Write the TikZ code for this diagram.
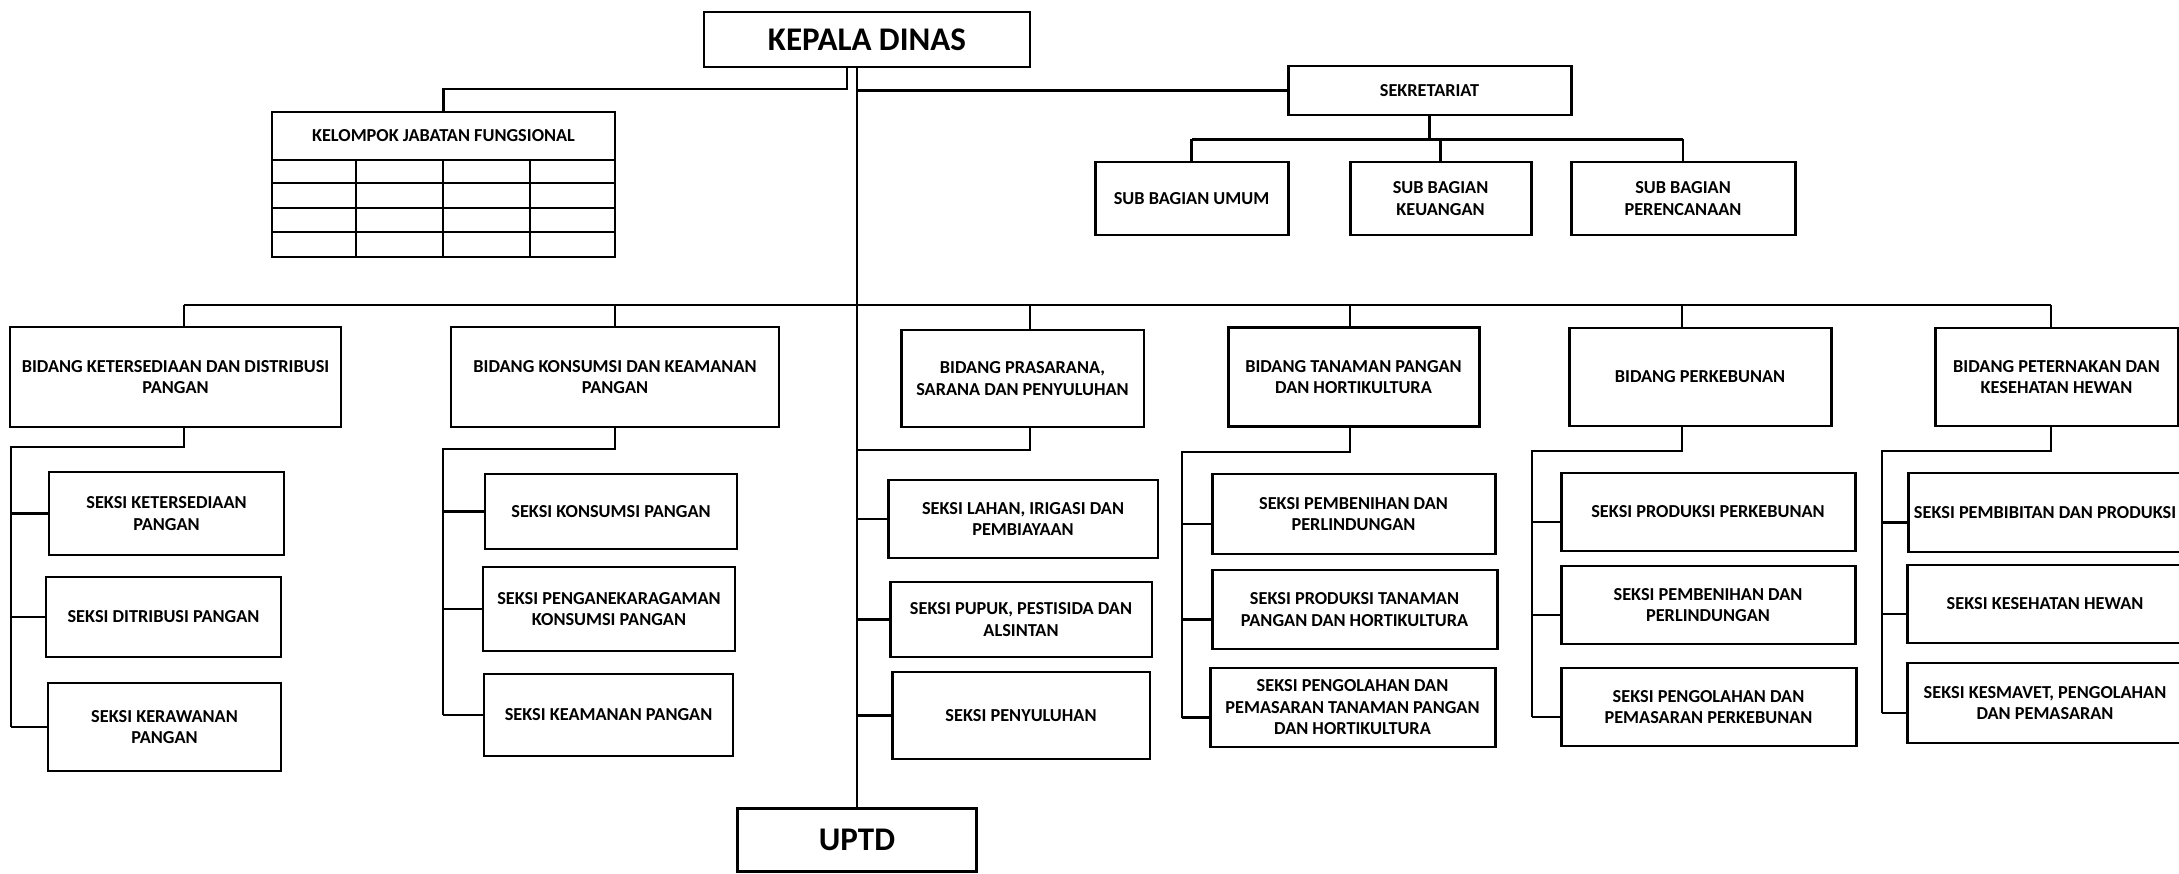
\documentclass[tikz,border=0pt]{standalone}
\usepackage{fontspec}
\setmainfont{Carlito}
\tikzset{
  orgbox/.style={draw, line width=0.85pt, align=center, inner sep=1pt,
    font=\fontsize{5.2}{6.1}\selectfont\bfseries},
  bigbox/.style={orgbox, line width=0.8pt, font=\fontsize{9.4}{11}\selectfont\bfseries},
  conn/.style={line width=0.6pt},
}
\begin{document}
\begin{tikzpicture}[x=0.1mm, y=-0.1mm]
\useasboundingbox (0,0) rectangle (2179,874);
\clip (0,0) rectangle (2179,874);

% pimpinan dan sekretariat
\node[bigbox, minimum width=32.6mm, minimum height=5.5mm] (kd) at (867,39.5) {KEPALA DINAS};
\node[bigbox, minimum width=23.9mm, minimum height=6.3mm] (uptd) at (857,840) {UPTD};
\node[orgbox, line width=0.7pt, minimum width=34.3mm, minimum height=4.8mm] (kjf) at (443.5,136) {KELOMPOK JABATAN FUNGSIONAL};
\node[orgbox, minimum width=28.3mm, minimum height=4.9mm] (sek) at (1429.5,90.5) {SEKRETARIAT};
\node[orgbox, minimum width=19.3mm, minimum height=7.3mm] (sbu) at (1191.5,198.5) {SUB BAGIAN UMUM};
\node[orgbox, minimum width=18.1mm, minimum height=7.3mm] (sbk) at (1440.5,198.5) {SUB BAGIAN\\KEUANGAN};
\node[orgbox, minimum width=22.4mm, minimum height=7.3mm] (sbp) at (1683,198.5) {SUB BAGIAN\\PERENCANAAN};

% tabel jabatan fungsional
\draw[line width=0.7pt] (272,160) rectangle (615,257);
\foreach \y in {183,208,232}
    \draw[line width=0.7pt] (272,\y)--(615,\y);
\foreach \x in {356,443,530}
    \draw[line width=0.7pt] (\x,160)--(\x,257);

% bidang
\node[orgbox, minimum width=33.1mm, minimum height=10mm] (b1) at (175.5,377) {BIDANG KETERSEDIAAN DAN DISTRIBUSI\\PANGAN};
\node[orgbox, minimum width=32.8mm, minimum height=10mm] (b2) at (615,377) {BIDANG KONSUMSI DAN KEAMANAN\\PANGAN};
\node[orgbox, minimum width=24.3mm, minimum height=9.7mm] (b3) at (1022.5,378.5) {BIDANG PRASARANA,\\SARANA DAN PENYULUHAN};
\node[orgbox, minimum width=25.1mm, minimum height=9.9mm] (b4) at (1353.5,377) {BIDANG TANAMAN PANGAN\\DAN HORTIKULTURA};
\node[orgbox, minimum width=26.2mm, minimum height=9.8mm] (b5) at (1700,377) {BIDANG PERKEBUNAN};
\node[orgbox, minimum width=24.3mm, minimum height=9.8mm] (b6) at (2056.5,377) {BIDANG PETERNAKAN DAN\\KESEHATAN HEWAN};

% seksi
\node[orgbox, minimum width=23.5mm, minimum height=8.3mm] (s11) at (166.5,513.5) {SEKSI KETERSEDIAAN\\PANGAN};
\node[orgbox, minimum width=23.5mm, minimum height=8mm] (s12) at (163.5,617) {SEKSI DITRIBUSI PANGAN};
\node[orgbox, minimum width=23.3mm, minimum height=8.8mm] (s13) at (164.5,727) {SEKSI KERAWANAN\\PANGAN};

\node[orgbox, minimum width=25.2mm, minimum height=7.5mm] (s21) at (611,511.5) {SEKSI KONSUMSI PANGAN};
\node[orgbox, minimum width=25.2mm, minimum height=8.4mm] (s22) at (609,609) {SEKSI PENGANEKARAGAMAN\\KONSUMSI PANGAN};
\node[orgbox, minimum width=24.9mm, minimum height=8.2mm] (s23) at (608.5,715) {SEKSI KEAMANAN PANGAN};

\node[orgbox, minimum width=27mm, minimum height=7.8mm] (s31) at (1023,519) {SEKSI LAHAN, IRIGASI DAN\\PEMBIAYAAN};
\node[orgbox, minimum width=26.2mm, minimum height=7.5mm] (s32) at (1021,619.5) {SEKSI PUPUK, PESTISIDA DAN\\ALSINTAN};
\node[orgbox, minimum width=25.8mm, minimum height=8.7mm] (s33) at (1021,715.5) {SEKSI PENYULUHAN};

\node[orgbox, minimum width=28.3mm, minimum height=8mm] (s41) at (1353.5,514) {SEKSI PEMBENIHAN DAN\\PERLINDUNGAN};
\node[orgbox, minimum width=28.5mm, minimum height=7.9mm] (s42) at (1354.5,609.5) {SEKSI PRODUKSI TANAMAN\\PANGAN DAN HORTIKULTURA};
\node[orgbox, minimum width=28.5mm, minimum height=7.9mm] (s43) at (1352.5,707.5) {SEKSI PENGOLAHAN DAN\\PEMASARAN TANAMAN PANGAN\\DAN HORTIKULTURA};

\node[orgbox, minimum width=29.4mm, minimum height=7.8mm] (s51) at (1708,512) {SEKSI PRODUKSI PERKEBUNAN};
\node[orgbox, minimum width=29.4mm, minimum height=7.8mm] (s52) at (1708,605) {SEKSI PEMBENIHAN DAN\\PERLINDUNGAN};
\node[orgbox, minimum width=29.5mm, minimum height=7.8mm] (s53) at (1708.5,707) {SEKSI PENGOLAHAN DAN\\PEMASARAN PERKEBUNAN};

% kolom kanan terpotong di tepi gambar
\node[orgbox, minimum width=27.4mm, minimum height=7.9mm] (s61) at (2045,512.5) {SEKSI PEMBIBITAN DAN PRODUKSI};
\node[orgbox, minimum width=27.6mm, minimum height=7.8mm] (s62) at (2045,604) {SEKSI KESEHATAN HEWAN};
\node[orgbox, minimum width=27.6mm, minimum height=8mm] (s63) at (2045,703) {SEKSI KESMAVET, PENGOLAHAN\\DAN PEMASARAN};

% garis komando
\coordinate (bus) at (0,305);
\coordinate (k1) at (11,447);
\coordinate (k2) at (443,449);
\coordinate (k3) at (857,450);
\coordinate (k4) at (1182,452);
\coordinate (k5) at (1532,451);
\coordinate (k6) at (1882,451);

\draw[conn] (kd.south -| uptd.north)--(uptd.north);
\draw[conn] ([xshift=-2mm]kd.south)--++(0,21)-|(kjf.north);
\draw[conn] (sek.west)--(sek.west -| uptd.north);
\draw[conn] (sek.south)--++(0,23)coordinate(sj);
\draw[conn] (sbu.north |- sj)--(sbp.north |- sj);
\foreach \n in {sbu,sbk,sbp}
    \draw[conn] (\n.north)--(\n.north |- sj);

\draw[conn] ([xshift=0.85mm]b1.north |- bus)--([xshift=-0.55mm]b6.north |- bus);
\foreach \i/\d/\e in {1/0.85/0, 2/0/0, 3/0.75/0, 4/-0.35/-1, 5/-1.8/-1, 6/-0.55/-1}
{
    \draw[conn] ([xshift=\d mm]b\i.north)--([xshift=\d mm]b\i.north |- bus);
    \draw[conn] ([xshift=\d mm]b\i.south)|-(k\i)--([yshift=\e mm]k\i |- s\i3.west);
    \foreach \j in {1,2,3}
        \draw[conn] ([yshift=\e mm]s\i\j.west)--([yshift=\e mm]s\i\j.west -| k\i);
}
\end{tikzpicture}
\end{document}
